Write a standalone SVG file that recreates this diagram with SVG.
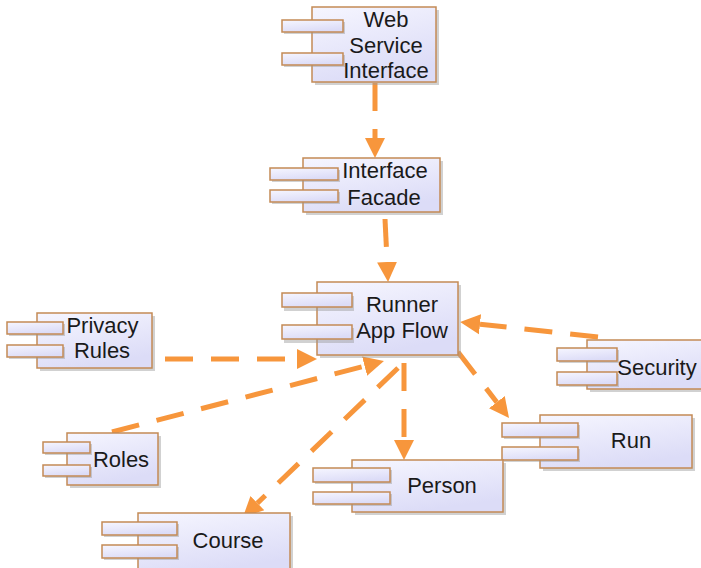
<svg xmlns="http://www.w3.org/2000/svg" width="701" height="568" viewBox="0 0 701 568">
<defs>
<linearGradient id="g" x1="0" y1="0" x2="0.4" y2="1">
<stop offset="0" stop-color="#f6f6ff"/>
<stop offset="1" stop-color="#dcdcf7"/>
</linearGradient>
<marker id="ah" markerUnits="userSpaceOnUse" markerWidth="22" markerHeight="22" viewBox="0 -11 22 22" refX="0" refY="0" orient="auto">
<path d="M0,-10 L20,0 L0,10 z" fill="#f7963c"/>
</marker>
<style>
.box{fill:url(#g);stroke:#c48a55;stroke-width:1.5}
.tab{fill:url(#g);stroke:#c48a55;stroke-width:1.5}
.sh{fill:#9a9a9a;opacity:0.45}
.t{font-family:"Liberation Sans",Arial,sans-serif;font-size:22px;fill:#1a1a1a;text-anchor:middle}
.c{fill:none;stroke:#f7963c;stroke-width:5;stroke-dasharray:28 18;marker-end:url(#ah)}
</style>
</defs>
<rect width="701" height="568" fill="#ffffff"/>

<g id="connectors">
<line class="c" x1="375" y1="83" x2="375" y2="138"/>
<line class="c" x1="385" y1="219" x2="387.1" y2="262"/>
<line class="c" x1="165" y1="359" x2="297" y2="359"/>
<line class="c" x1="598" y1="337" x2="480" y2="324.2"/>
<line class="c" x1="112" y1="432" x2="364.6" y2="366.1"/>
<line class="c" x1="458" y1="352" x2="496.8" y2="402.2"/>
<line class="c" x1="404" y1="363" x2="404" y2="440"/>
<line class="c" x1="398" y1="368" x2="257.4" y2="503.1"/>
</g>

<g id="web-service-interface">
<rect class="sh" x="315" y="10" width="124" height="75"/>
<rect class="box" x="312" y="7" width="124" height="75"/>
<rect class="sh" x="284" y="22" width="61" height="12"/>
<rect class="tab" x="282" y="20" width="61" height="12"/>
<rect class="sh" x="284" y="55" width="61" height="12"/>
<rect class="tab" x="282" y="53" width="61" height="12"/>
<text class="t" x="386" y="27">Web</text>
<text class="t" x="386" y="52.5">Service</text>
<text class="t" x="386" y="78">Interface</text>
</g>

<g id="interface-facade">
<rect class="sh" x="306" y="161" width="137" height="54"/>
<rect class="box" x="303" y="158" width="137" height="54"/>
<rect class="sh" x="272" y="170" width="68" height="12"/>
<rect class="tab" x="270" y="168" width="68" height="12"/>
<rect class="sh" x="272" y="192" width="68" height="12"/>
<rect class="tab" x="270" y="190" width="68" height="12"/>
<text class="t" x="385" y="178">Interface</text>
<text class="t" x="384" y="205">Facade</text>
</g>

<g id="runner-app-flow">
<rect class="sh" x="320" y="285" width="141" height="73"/>
<rect class="box" x="317" y="282" width="141" height="73"/>
<rect class="sh" x="284" y="296" width="70" height="15"/>
<rect class="tab" x="282" y="293" width="70" height="14"/>
<rect class="sh" x="284" y="328" width="70" height="15"/>
<rect class="tab" x="282" y="325" width="70" height="14"/>
<text class="t" x="402" y="312">Runner</text>
<text class="t" x="402" y="338">App Flow</text>
</g>

<g id="privacy-rules">
<rect class="sh" x="40" y="316" width="115" height="55"/>
<rect class="box" x="37" y="313" width="115" height="55"/>
<rect class="sh" x="9" y="324" width="56" height="12"/>
<rect class="tab" x="7" y="322" width="56" height="12"/>
<rect class="sh" x="9" y="347" width="56" height="12"/>
<rect class="tab" x="7" y="345" width="56" height="12"/>
<text class="t" x="102.5" y="333">Privacy</text>
<text class="t" x="102" y="358">Rules</text>
</g>

<g id="security">
<rect class="sh" x="590" y="343" width="120" height="49"/>
<rect class="box" x="587" y="340" width="120" height="49"/>
<rect class="sh" x="559" y="350" width="60" height="13"/>
<rect class="tab" x="557" y="348" width="60" height="13"/>
<rect class="sh" x="559" y="374" width="60" height="13"/>
<rect class="tab" x="557" y="372" width="60" height="13"/>
<text class="t" x="657" y="375">Security</text>
</g>

<g id="roles">
<rect class="sh" x="70" y="436" width="91" height="52"/>
<rect class="box" x="67" y="433" width="91" height="52"/>
<rect class="sh" x="45" y="444" width="47" height="11"/>
<rect class="tab" x="43" y="442" width="47" height="11"/>
<rect class="sh" x="45" y="467" width="47" height="11"/>
<rect class="tab" x="43" y="465" width="47" height="11"/>
<text class="t" x="121" y="467">Roles</text>
</g>

<g id="run">
<rect class="sh" x="543" y="418" width="152" height="53"/>
<rect class="box" x="540" y="415" width="152" height="53"/>
<rect class="sh" x="504" y="425" width="76" height="14"/>
<rect class="tab" x="502" y="423" width="76" height="14"/>
<rect class="sh" x="504" y="449" width="76" height="13"/>
<rect class="tab" x="502" y="447" width="76" height="13"/>
<text class="t" x="631" y="448">Run</text>
</g>

<g id="person">
<rect class="sh" x="355" y="463" width="151" height="52"/>
<rect class="box" x="352" y="460" width="151" height="52"/>
<rect class="sh" x="315" y="470" width="77" height="14"/>
<rect class="tab" x="313" y="468" width="77" height="14"/>
<rect class="sh" x="315" y="494" width="77" height="12"/>
<rect class="tab" x="313" y="492" width="77" height="12"/>
<text class="t" x="442" y="493">Person</text>
</g>

<g id="course">
<rect class="sh" x="141" y="516" width="152" height="60"/>
<rect class="box" x="138" y="513" width="152" height="60"/>
<rect class="sh" x="104" y="524" width="75" height="13"/>
<rect class="tab" x="102" y="522" width="75" height="13"/>
<rect class="sh" x="104" y="547" width="75" height="13"/>
<rect class="tab" x="102" y="545" width="75" height="13"/>
<text class="t" x="228" y="548">Course</text>
</g>
</svg>
